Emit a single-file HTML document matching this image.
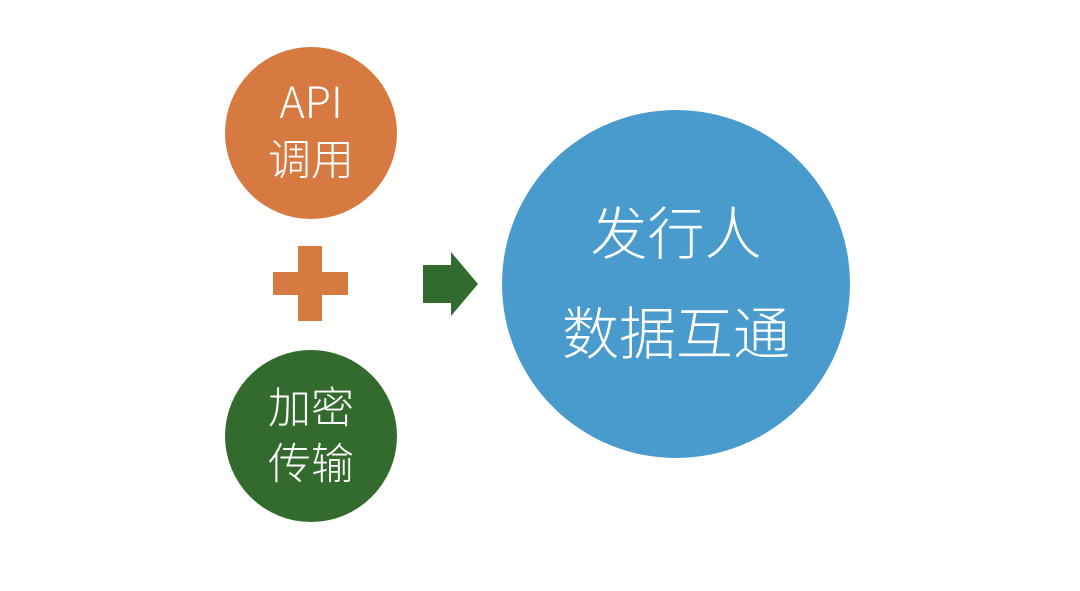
<!DOCTYPE html>
<html><head><meta charset="utf-8"><style>
html,body{margin:0;padding:0;background:#fff;}
svg{display:block}
text{font-family:"Liberation Sans","Noto Sans CJK SC",sans-serif;fill:#fff;text-anchor:middle;font-weight:300}
</style></head><body>
<svg width="1080" height="591" viewBox="0 0 1080 591" xmlns="http://www.w3.org/2000/svg">
<rect width="1080" height="591" fill="#fff"/>
<circle cx="311" cy="133" r="86" fill="#d67a42"/>
<circle cx="311" cy="436" r="86" fill="#336b2e"/>
<circle cx="676" cy="284" r="174" fill="#4a9bcd"/>
<rect x="273" y="272" width="75" height="23" fill="#d67a42"/>
<rect x="298" y="246" width="24" height="75" fill="#d67a42"/>
<polygon points="423,265 451,265 451,252 478,284 451,316 451,303 423,303" fill="#336b2e"/>
<text x="311" y="118" font-size="43" style="font-family:'Noto Sans CJK SC',sans-serif">API</text>
<text x="311" y="175" font-size="43" style="font-family:'Noto Sans CJK SC',sans-serif">调用</text>
<text x="311" y="423" font-size="43" style="font-family:'Noto Sans CJK SC',sans-serif">加密</text>
<text x="311" y="479" font-size="43" style="font-family:'Noto Sans CJK SC',sans-serif">传输</text>
<text x="676" y="254" font-size="57" style="font-family:'Noto Sans CJK SC',sans-serif">发行人</text>
<text x="676" y="354" font-size="57" style="font-family:'Noto Sans CJK SC',sans-serif">数据互通</text>
</svg>
</body></html>
